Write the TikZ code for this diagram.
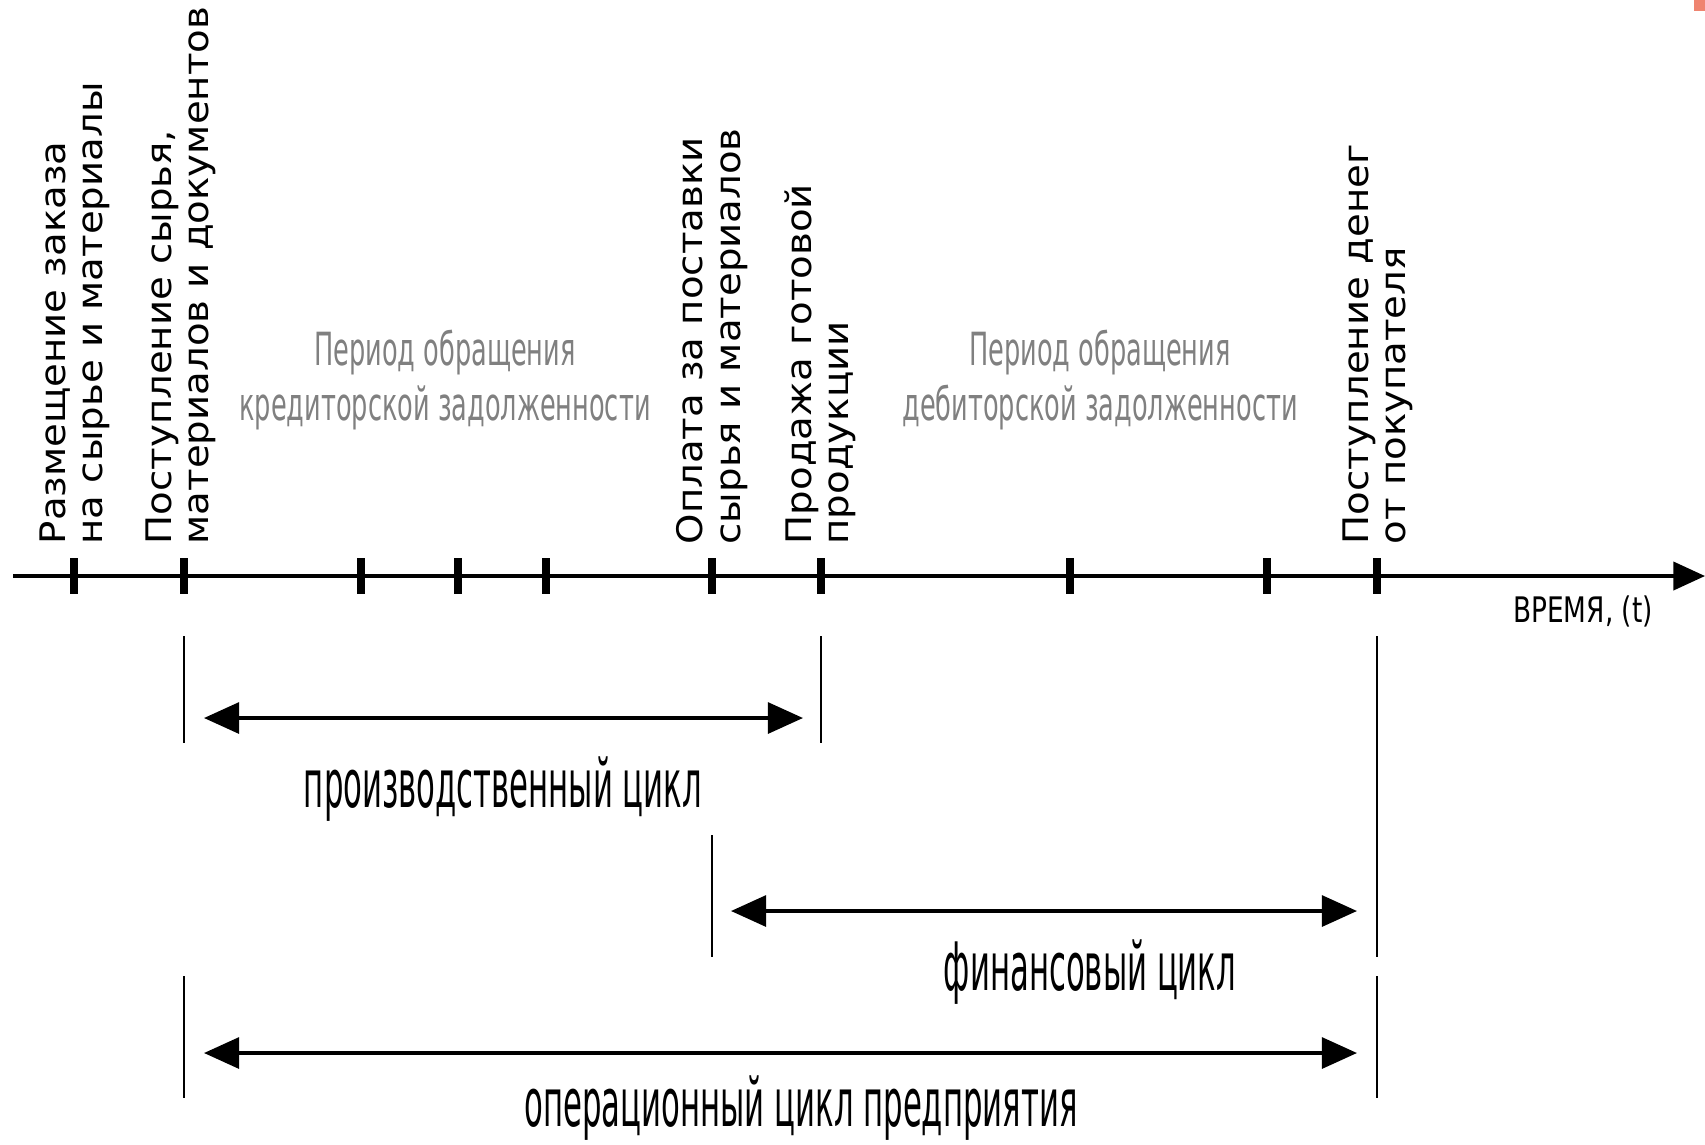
\documentclass[tikz,border=0pt]{standalone}
\usepackage{fontspec}
\setmainfont{DejaVu Sans}
\newfontfamily\eventfont[FakeStretch=1.1]{DejaVu Sans}
\newfontfamily\periodfont[FakeStretch=0.56]{DejaVu Sans}
\newfontfamily\cyclefont[FakeStretch=0.46]{DejaVu Sans}
\newfontfamily\axisfont[FakeStretch=0.75]{DejaVu Sans}
\usetikzlibrary{arrows.meta}
\definecolor{corner}{RGB}{239,132,112}

\begin{document}
\begin{tikzpicture}[x=0.01cm,y=-0.01cm,
  event/.style={rotate=90,anchor=west,inner sep=0pt,align=left,
    font=\eventfont\fontsize{10}{10.6}\selectfont},
  period/.style={black!50,align=center,inner sep=0pt,
    font=\periodfont\fontsize{13}{15.6}\selectfont},
  cycle/.style={anchor=base,inner sep=0pt,font=\cyclefont\fontsize{19}{22}\selectfont},
  tickmark/.style={line width=2.3pt},
  guide/.style={line width=0.4pt},
  span/.style={line width=1pt,{Triangle[length=10pt,width=8.8pt]}-{Triangle[length=10pt,width=8.8pt]}}]
\useasboundingbox (0,0) rectangle (1705,1144);

% Time axis
\coordinate (start) at (13,576);
\coordinate (stop) at (1705,576);
\draw[line width=1pt,-{Triangle[length=9pt,width=8pt]}] (start) -- (stop);
\node[inner sep=0pt,font=\axisfont\fontsize{10}{12}\selectfont] (time) at (1583,611) {ВРЕМЯ, (t)};

% Tick marks
\draw[tickmark] (74,558) -- (74,594);
\draw[tickmark] (184,558) -- (184,594);
\draw[tickmark] (361,558) -- (361,594);
\draw[tickmark] (458,558) -- (458,594);
\draw[tickmark] (546,558) -- (546,594);
\draw[tickmark] (712,558) -- (712,594);
\draw[tickmark] (821,558) -- (821,594);
\draw[tickmark] (1070,558) -- (1070,594);
\draw[tickmark] (1267,558) -- (1267,594);
\draw[tickmark] (1377,558) -- (1377,594);

% Events
\node[event] (order) at (75,545) {Размещение заказа\\на сырье и материалы};
\node[event] (receipt) at (181,545) {Поступление сырья,\\материалов и документов};
\node[event] (payment) at (712,545) {Оплата за поставки\\сырья и материалов};
\node[event] (sale) at (820,545) {Продажа готовой\\продукции};
\node[event] (cash) at (1378,545) {Поступление денег\\от покупателя};

% Turnover periods
\node[period] (payables) at (445,380) {Период обращения\\кредиторской задолженности};
\node[period] (receivables) at (1100,380) {Период обращения\\дебиторской задолженности};

% Guide lines
\draw[guide] (184,636) -- (184,743);
\draw[guide] (821,636) -- (821,743);
\draw[guide] (1377,636) -- (1377,957);
\draw[guide] (712,835) -- (712,957);
\draw[guide] (184,976) -- (184,1098);
\draw[guide] (1377,976) -- (1377,1098);

% Cycles
\coordinate (prodA) at (204,718);
\coordinate (prodB) at (803,718);
\draw[span] (prodA) -- (prodB);
\node[cycle] (production) at (503,807) {производственный цикл};

\coordinate (finA) at (731,911);
\coordinate (finB) at (1357,911);
\draw[span] (finA) -- (finB);
\node[cycle] (financial) at (1090,990) {финансовый цикл};

\coordinate (opA) at (204,1053);
\coordinate (opB) at (1357,1053);
\draw[span] (opA) -- (opB);
\node[cycle] (operating) at (801,1126) {операционный цикл предприятия};

\fill[corner] (1694,0) rectangle (1705,11);
\end{tikzpicture}
\end{document}
